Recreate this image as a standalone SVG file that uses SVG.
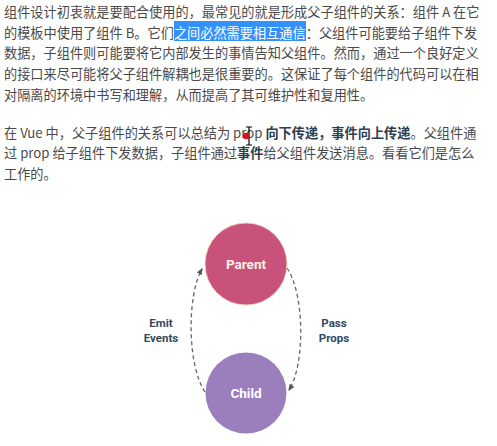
<svg xmlns="http://www.w3.org/2000/svg" width="497" height="446" viewBox="0 0 497 446">
<style>
.p{font-family:"Noto Sans CJK SC","Liberation Sans",sans-serif;font-size:13.2px;fill:#4a4a4a}
.b{font-weight:bold;fill:#2c3e50}
.sel{fill:#ffffff}
.lbl{font-family:Roboto,"Liberation Sans",sans-serif;font-weight:bold;font-size:11.5px;fill:#34495e;text-anchor:middle}
.nt{font-family:Roboto,"Liberation Sans",sans-serif;font-weight:bold;font-size:13.5px;text-anchor:middle}
.edge{fill:none;stroke:#666;stroke-width:1.3;stroke-dasharray:4 3}
</style>
<defs>
<marker id="ah" viewBox="0 0 10 10" refX="8" refY="5" markerWidth="7" markerHeight="7" orient="auto" markerUnits="userSpaceOnUse">
<path d="M0,1 L10,5 L0,9 Z" fill="#555"/>
</marker>
</defs>
<rect width="497" height="446" fill="#ffffff"/>
<g id="text">
<rect x="174" y="21" width="132" height="20" fill="#3391ff"/>
<text class="p" x="4" y="17">组件设计初衷就是要配合使用的，最常见的就是形成父子组件的关系：组件 A 在它</text>
<text class="p" x="4" y="37.5">的模板中使用了组件 B。它们<tspan class="sel">之间必然需要相互通信</tspan>：父组件可能要给子组件下发</text>
<text class="p" x="4" y="58.3">数据，子组件则可能要将它内部发生的事情告知父组件。然而，通过一个良好定义</text>
<text class="p" x="4" y="79.2">的接口来尽可能将父子组件解耦也是很重要的。这保证了每个组件的代码可以在相</text>
<text class="p" x="4" y="100">对隔离的环境中书写和理解，从而提高了其可维护性和复用性。</text>
<text class="p" x="4" y="137.5">在 Vue 中，父子组件的关系可以总结为 prop <tspan class="b">向下传递，事件向上传递</tspan>。父组件通</text>
<text class="p" x="4" y="158.3">过 prop 给子组件下发数据，子组件通过<tspan class="b">事件</tspan>给父组件发送消息。看看它们是怎么</text>
<text class="p" x="4" y="179">工作的。</text>
</g>
<g id="cursor">
<path d="M246,127 h6 M249,127 v18 M246,145 h6" stroke="#000" stroke-width="1.2" fill="none"/>
<circle cx="246" cy="136" r="3.2" fill="#e0101a"/>
</g>
<g id="connectors">
<path class="edge" d="M205,392 C187,365 187,295 202,269" marker-end="url(#ah)"/>
<path class="edge" d="M287,268 C305,295 305,365 289,390" marker-end="url(#ah)"/>
</g>
<g id="parent">
<circle cx="246" cy="264" r="41" fill="#c9527a" stroke="#f2d4b4" stroke-width="0.8"/>
<text class="nt" x="246" y="269" fill="#fff4e2">Parent</text>
</g>
<g id="child">
<circle cx="246" cy="393" r="40.5" fill="#9b7fbd"/>
<text class="nt" x="246" y="398" fill="#ffffff">Child</text>
</g>
<g id="labels">
<text class="lbl" x="161" y="327">Emit</text>
<text class="lbl" x="161" y="342">Events</text>
<text class="lbl" x="334" y="327">Pass</text>
<text class="lbl" x="334" y="342">Props</text>
</g>
</svg>
